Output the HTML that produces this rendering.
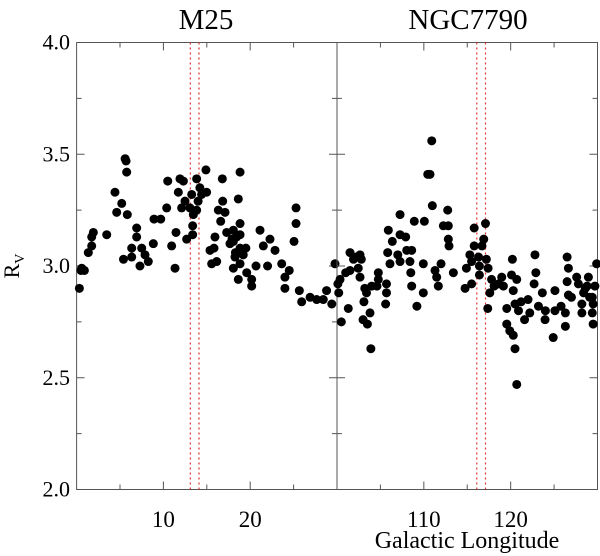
<!DOCTYPE html>
<html><head><meta charset="utf-8"><style>
html,body{margin:0;padding:0;background:#fff;}
svg{display:block;font-family:"Liberation Serif",serif;}
</style></head><body>
<svg id="chart" width="600" height="556" viewBox="0 0 600 556" xmlns="http://www.w3.org/2000/svg">
<text x="206" y="29" font-size="29" text-anchor="middle">M25</text>
<text x="468" y="29" font-size="29" text-anchor="middle">NGC7790</text>
<text x="467" y="548" font-size="24" text-anchor="middle">Galactic Longitude</text>
<text transform="translate(19,266) rotate(-90)" font-size="22" text-anchor="middle">R<tspan font-size="14" dy="5">V</tspan></text>
<g id="plot"></g>
</svg>
<script>
const yTicks = [2.0, 2.5, 3.0, 3.5, 4.0];
const leftXTicks = [10, 20];
const rightXTicks = [110, 120];
const leftMarkers = [13.1, 14.1];
const rightMarkers = [116.1, 117.1];
const leftLon = [5.59,5.7,5.77,4.42,5.2,4.62,5.84,1.93,1.74,3.47,1.74,1.35,0.59,0.32,6.92,6.92,6.35,6.35,7.5,7.88,8.26,7.3,8.84,8.92,9.69,10.38,10.95,11.34,11.45,12.68,11.91,11.72,12.1,12.49,13.06,13.26,13.45,13.37,13.37,13.83,14.2,14.4,14.0,13.83,14.98,14.9,15.37,15.56,15.94,15.83,16.14,16.33,16.83,17.1,16.6,16.79,17.29,18.06,18.06,18.44,17.67,18.83,18.83,18.25,19.2,18.06,18.83,18.63,18.83,18.63,18.83,19.6,20.17,20.17,20.67,21.13,21.51,22.28,22.0,22.86,23.63,24.0,24.5,24.0,25.28,25.28,25.05,25.66,25.93,26.9,27.66,28.42,28.8,29.4,29.77,0.5,0.9,5.4,10.5,12.3,18.3,17.9,19.5];
const leftRv = [3.48,3.47,3.42,3.33,3.28,3.24,3.23,3.15,3.13,3.14,3.09,3.06,2.99,2.90,3.17,3.13,3.08,3.04,3.08,3.05,3.02,3.00,3.10,3.21,3.21,3.26,3.09,2.99,3.15,3.12,3.39,3.33,3.26,3.29,3.26,3.32,3.23,3.18,3.14,3.39,3.35,3.32,3.29,3.25,3.33,3.43,3.07,3.01,3.13,3.08,3.02,3.25,3.29,3.24,3.20,3.39,3.15,3.16,3.11,3.13,3.10,3.14,3.08,3.04,3.05,2.99,3.01,2.94,3.19,3.30,3.42,2.97,2.94,2.91,3.00,3.16,3.09,3.12,3.00,3.07,3.01,2.95,2.98,2.90,3.26,3.19,3.11,2.89,2.84,2.86,2.85,2.85,2.89,2.83,3.01,2.98,2.98,3.03,3.38,3.38,3.06,3.12,3.08];
const rightLon = [110.91,110.71,110.45,110.98,112.75,112.25,112.82,112.82,112.9,111.98,111.29,111.48,111.67,109.94,109.94,110.06,108.9,107.26,105.91,107.26,107.91,106.37,105.84,107.0,108.03,108.6,107.26,106.1,108.4,108.5,108.6,109.2,104.76,104.76,104.6,105.7,105.7,105.6,104.0,103.4,103.1,103.8,103.0,103.5,103.9,101.5,102.65,101.9,102.8,101.5,102.45,102.65,103.2,100.35,100.2,101.3,100.5,113.4,114.75,115.5,114.9,115.3,115.5,115.8,115.8,116.3,116.4,116.4,116.9,116.7,117.1,117.2,117.4,117.36,117.8,118.1,118.6,118.97,119.16,117.6,120.2,120.1,120.7,120.3,119.55,120.5,120.9,119.55,119.9,120.3,120.5,120.7,122.0,122.2,121.6,122.8,122.9,122.7,123.65,123.2,124.0,123.96,125.1,125.1,124.9,126.3,126.3,126.5,126.65,126.5,126.65,127.6,127.8,128.2,128.4,128.2,128.95,128.8,129.4,129.4,129.5,129.7,129.9,129.5,100.1,101.0,102.2,121.2,127.0,125.8,128.6,129.1];
const rightRv = [3.56,3.41,3.41,3.27,3.25,3.18,3.18,3.12,3.09,3.01,2.98,2.95,2.91,3.01,2.88,3.20,3.20,3.23,3.16,3.14,3.13,3.11,3.06,3.05,3.07,3.07,3.02,3.01,3.02,2.97,2.91,2.82,2.97,2.94,2.91,2.92,2.88,2.83,2.91,2.88,2.84,2.79,2.76,2.74,2.63,3.06,3.05,3.03,3.03,2.98,2.99,2.95,2.90,2.94,2.88,2.81,2.75,2.97,2.90,2.92,2.99,3.05,3.02,3.09,3.17,3.04,3.00,2.96,3.12,3.09,3.19,3.03,2.99,2.81,2.94,2.91,2.92,2.95,2.91,2.88,3.03,2.96,2.94,2.89,2.81,2.83,2.80,2.74,2.71,2.69,2.63,2.47,2.85,2.79,2.76,3.05,2.97,2.92,2.88,2.82,2.80,2.76,2.89,2.80,2.68,2.79,2.73,3.04,2.99,2.93,2.87,2.95,2.92,2.83,2.88,2.79,2.95,2.91,2.86,2.79,2.74,2.91,3.01,2.83,2.92,2.97,3.04,2.84,2.86,2.82,2.90,2.86];

const NS = "http://www.w3.org/2000/svg";
const plot = document.getElementById('plot');
const TOP = 42.5, BOT = 489.5;
function yScale(v){ return BOT - (v - 2.0) / 2.0 * (BOT - TOP); }
const panels = [
  {x0:76.6, x1:337, d0:0, d1:30, lon:leftLon, rv:leftRv, ticks:leftXTicks, markers:leftMarkers, name:'m25'},
  {x0:337, x1:597.5, d0:100, d1:130, lon:rightLon, rv:rightRv, ticks:rightXTicks, markers:rightMarkers, name:'ngc7790'}
];
function mk(tag, attrs){ const e = document.createElementNS(NS, tag); for (const k in attrs) e.setAttribute(k, attrs[k]); plot.appendChild(e); return e; }

panels.forEach(p => {
  const xs = v => p.x0 + (v - p.d0) / (p.d1 - p.d0) * (p.x1 - p.x0);
  const frame = mk('rect', {x:p.x0, y:TOP, width:p.x1-p.x0, height:BOT-TOP, fill:'none', stroke:'#555', 'stroke-width':1});
  
  
  for (let v = p.d0 + 5; v < p.d1; v += 5) {
    const len = (v % 10 === 0) ? 8 : 5;
    const t1 = mk('line', {x1:xs(v), x2:xs(v), y1:BOT, y2:BOT-len, stroke:'#555'});
    
    
    const t2 = mk('line', {x1:xs(v), x2:xs(v), y1:TOP, y2:TOP+len, stroke:'#555'});
    
    
  }
  p.ticks.forEach(v => {
    const t = mk('text', {x:xs(v), y:527, 'font-size':23, 'text-anchor':'middle'});
    t.textContent = String(v);
    
    
  });
  for (let v = 2.25; v < 4.0; v += 0.25) {
    const len = (Math.abs(v*2 - Math.round(v*2)) < 1e-6) ? 8 : 5;
    const a = mk('line', {x1:p.x0, x2:p.x0+len, y1:yScale(v), y2:yScale(v), stroke:'#555'});
    
    
    const b = mk('line', {x1:p.x1, x2:p.x1-len, y1:yScale(v), y2:yScale(v), stroke:'#555'});
    
    
  }
  p.markers.forEach(v => {
    const l = mk('line', {x1:xs(v), x2:xs(v), y1:TOP, y2:BOT, stroke:'#e03030', 'stroke-width':1.2, 'stroke-dasharray':'2,3'});
    
    
  });
  p.lon.forEach((lv, i) => {
    const c = mk('circle', {cx:xs(lv), cy:yScale(p.rv[i]), r:4.5, fill:'#000'});
    
    
  });
});
yTicks.forEach(v => {
  const t = mk('text', {x:70, y:yScale(v)+7, 'font-size':22, 'text-anchor':'end'});
  t.textContent = v.toFixed(1);
  
  
});
</script>
</body></html>
